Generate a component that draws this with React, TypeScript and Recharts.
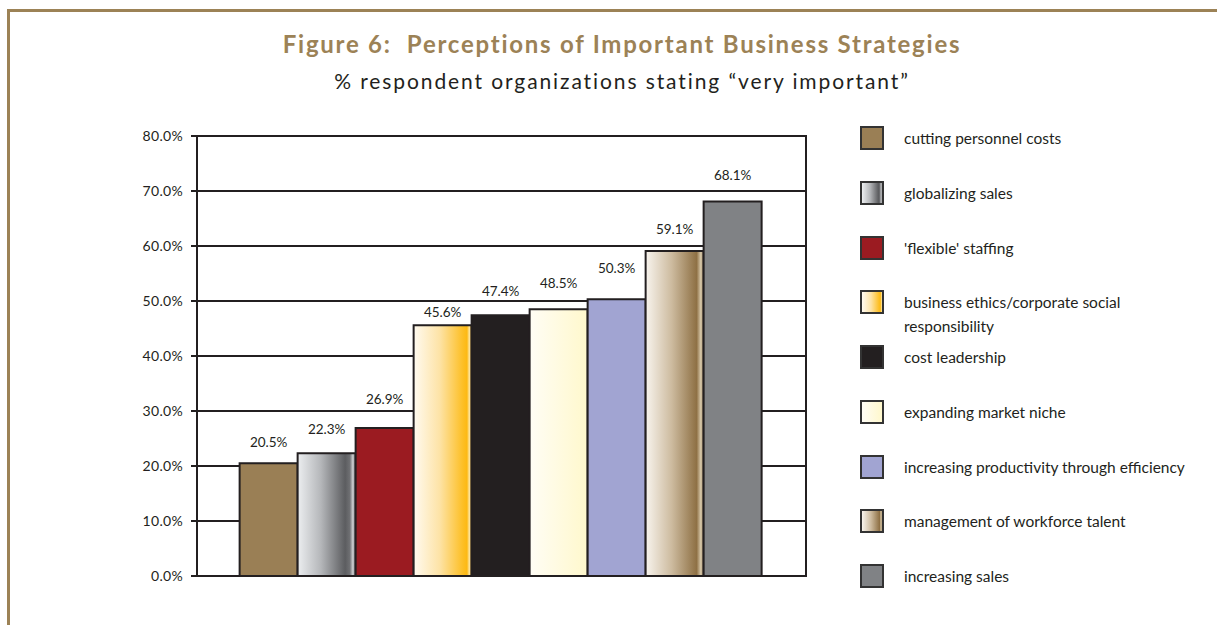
import { BarChart, Bar, XAxis, YAxis, CartesianGrid, LabelList, ReferenceArea } from "recharts";

const categories = [
  "cutting personnel costs",
  "globalizing sales",
  "'flexible' staffing",
  "business ethics/corporate social\nresponsibility",
  "cost leadership",
  "expanding market niche",
  "increasing productivity through efficiency",
  "management of workforce talent",
  "increasing sales",
];
const values = [20.5, 22.3, 26.9, 45.6, 47.4, 48.5, 50.3, 59.1, 68.1];
const yTicks = [0, 10, 20, 30, 40, 50, 60, 70, 80];

// value labels were nudged by hand in the original to dodge gridlines (px above bar)
const labelLift = [16, 19, 24, 8, 19, 21, 26, 17, 21];

// gradient stops per series (horizontal, left -> right)
const fills: [number, string][][] = [
  [[0, "#9a7f55"], [1, "#9a7f55"]],
  [[0, "#eceef0"], [0.4, "#b5b7ba"], [0.82, "#5c5d60"], [0.9, "#6f7073"], [0.95, "#c9cacc"], [1, "#8d8e91"]],
  [[0, "#9b1b21"], [1, "#9b1b21"]],
  [[0, "#fffaf0"], [0.45, "#fde3a6"], [0.85, "#fdbf25"], [0.92, "#fdb913"], [0.96, "#fde6a0"], [1, "#fdc94a"]],
  [[0, "#231f20"], [1, "#231f20"]],
  [[0, "#fffdf5"], [1, "#fff8cc"]],
  [[0, "#a1a4d2"], [1, "#a1a4d2"]],
  [[0, "#f8f4ee"], [0.45, "#cdbb9f"], [0.88, "#8e7044"], [0.95, "#d6c7a9"], [1, "#a8906a"]],
  [[0, "#808285"], [1, "#808285"]],
];

const gold = "#9c8256";
const ink = "#231f20";
const font = "Lato, 'Open Sans', sans-serif";

const row: Record<string, number | string> = { name: "all" };
values.forEach((v, i) => (row[`s${i}`] = v));
const data = [row];

const cssGradient = (stops: [number, string][]) =>
  `linear-gradient(to right, ${stops.map(([o, c]) => `${c} ${o * 100}%`).join(", ")})`;

export default function App() {
  return (
    <div
      style={{
        position: "fixed",
        left: 0,
        top: 0,
        width: 1217,
        height: 625,
        overflow: "hidden",
        background: "#fff",
        fontFamily: font,
        color: ink,
      }}
    >
      <div
        style={{
          position: "absolute",
          left: 7,
          top: 9,
          width: 1400,
          height: 800,
          borderTop: `3px solid ${gold}`,
          borderLeft: `3px solid ${gold}`,
        }}
      />
      <div
        style={{
          position: "absolute",
          left: 122,
          top: 29,
          width: 1000,
          textAlign: "center",
          fontSize: 24,
          lineHeight: "30px",
          fontWeight: 700,
          letterSpacing: 1.75,
          color: gold,
          whiteSpace: "pre",
        }}
      >
        {"Figure 6:  Perceptions of Important Business Strategies"}
      </div>
      <div
        style={{
          position: "absolute",
          left: 122,
          top: 68,
          width: 1000,
          textAlign: "center",
          fontSize: 21,
          lineHeight: "26px",
          letterSpacing: 1.9,
        }}
      >
        % respondent organizations stating “very important”
      </div>

      <div style={{ position: "absolute", left: 0, top: 0 }}>
        <BarChart
          width={830}
          height={625}
          data={data}
          margin={{ top: 136, right: 24, bottom: 49, left: 127 }}
          barCategoryGap="7%"
          barGap={0}
        >
          <defs>
            {fills.map((stops, i) => (
              <linearGradient key={i} id={`g${i}`} x1="0" y1="0" x2="1" y2="0">
                {stops.map(([o, c], j) => (
                  <stop key={j} offset={o} stopColor={c} />
                ))}
              </linearGradient>
            ))}
          </defs>
          <CartesianGrid vertical={false} stroke={ink} strokeWidth={2} />
          <ReferenceArea y1={0} y2={80} fill="none" stroke={ink} strokeWidth={2} ifOverflow="visible" />
          <XAxis
            dataKey="name"
            tick={false}
            height={0}
            axisLine={{ stroke: ink, strokeWidth: 2 }}
            tickLine={false}
          />
          <YAxis
            domain={[0, 80]}
            ticks={yTicks}
            interval={0}
            width={70}
            tickSize={6}
            tickMargin={8}
            tickFormatter={(v: number) => `${v.toFixed(1)}%`}
            tick={{ fill: ink, fontSize: 14, fontFamily: font, letterSpacing: 0.3 }}
            axisLine={{ stroke: ink, strokeWidth: 2 }}
            tickLine={{ stroke: ink, strokeWidth: 2 }}
          />
          {values.map((_, i) => (
            <Bar
              key={i}
              dataKey={`s${i}`}
              name={categories[i]}
              fill={`url(#g${i})`}
              stroke={ink}
              strokeWidth={2}
              isAnimationActive={false}
            >
              <LabelList
                dataKey={`s${i}`}
                position="top"
                offset={labelLift[i]}
                formatter={(v: any) => `${Number(v).toFixed(1)}%`}
                style={{ fill: ink, fontSize: 13.5, fontFamily: font }}
              />
            </Bar>
          ))}
        </BarChart>
      </div>

      {categories.map((c, i) => {
        const center = 138 + i * 54.75;
        return (
          <div key={i}>
            <div
              style={{
                position: "absolute",
                left: 860,
                top: center - 12,
                width: 24,
                height: 24,
                boxSizing: "border-box",
                border: `2px solid #333`,
                background: cssGradient(fills[i]),
              }}
            />
            <div
              style={{
                position: "absolute",
                left: 904,
                top: center - 12,
                fontSize: 15.5,
                lineHeight: "24px",
                whiteSpace: "pre-line",
              }}
            >
              {c}
            </div>
          </div>
        );
      })}
    </div>
  );
}
